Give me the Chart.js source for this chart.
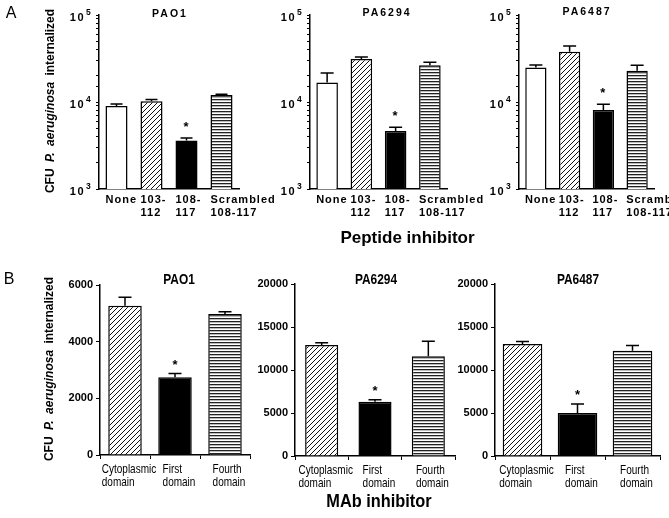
<!DOCTYPE html>
<html><head><meta charset="utf-8">
<script src="https://cdn.jsdelivr.net/npm/chart.js@4.4.1/dist/chart.umd.min.js"></script>
<style>
html,body{margin:0;padding:0;background:#fff;}
#wrap{position:relative;width:669px;height:518px;overflow:hidden;font-family:'Liberation Sans',Arial,sans-serif;color:#000;}
#wrap canvas{position:absolute;left:0;top:0;}
.t{position:absolute;white-space:nowrap;line-height:1;transform:translate(-50%,-50%);}
.ytitle{font-weight:bold;font-size:12px;word-spacing:3px;transform:translate(-50%,-50%) rotate(-90deg);}
.ptop{font-weight:bold;font-size:10.5px;letter-spacing:2px;}
.pbot{font-weight:bold;font-size:14.5px;transform:translate(-50%,-50%) scaleX(0.82);}
.xt{font-weight:bold;font-size:17px;}
.xtn{font-weight:bold;font-size:19px;transform:translate(-50%,-50%) scaleX(0.86);}
.lab{font-size:16px;}
</style></head><body><div id="wrap"></div>
<script>
// ---------------- DATA ----------------
const strains = ['PAO1', 'PA6294', 'PA6487'];
const peptideCategories = [['None'], ['103-', '112'], ['108-', '117'], ['Scrambled', '108-117']];
const peptideTickValues = [1000, 10000, 100000];
const pao1PeptideMeans = [9000, 10200, 3600, 12000];
const pao1PeptideSem = [500, 500, 250, 300];
const pa6294PeptideMeans = [16700, 31200, 4640, 26400];
const pa6294PeptideSem = [4800, 1600, 480, 2200];
const pa6487PeptideMeans = [25000, 37800, 8100, 22900];
const pa6487PeptideSem = [1600, 6200, 1300, 3500];
const peptideSignificant = [false, false, true, false];

const mabCategories = [['Cytoplasmic', 'domain'], ['First', 'domain'], ['Fourth', 'domain']];
const pao1MabMeans = [5270, 2740, 4980];
const pao1MabSem = [295, 140, 80];
const pa6294MabMeans = [12900, 6310, 11590];
const pa6294MabSem = [270, 240, 1740];
const pa6487MabMeans = [13010, 5010, 12230];
const pa6487MabSem = [300, 1050, 610];
const mabSignificant = [false, true, false];
const pao1MabTicks = {max: 6000, step: 2000};
const paMabTicks = {max: 20000, step: 5000};

const yAxisTitle = ['CFU ', 'P.', ' ', 'aeruginosa', ' internalized'];
const peptideAxisTitle = 'Peptide inhibitor';
const mabAxisTitle = 'MAb inhibitor';
const panelLetters = ['A', 'B'];

// ---------------- STYLE / LAYOUT ----------------
const W = 669, H = 518;
const FONT = "'Liberation Sans', Arial, sans-serif";
Chart.defaults.font.family = FONT;
Chart.defaults.color = '#000';

function diagPattern() {
  const s = 5, c = document.createElement('canvas'); c.width = s; c.height = s;
  const g = c.getContext('2d'); g.fillStyle = '#fff'; g.fillRect(0, 0, s, s);
  g.strokeStyle = '#111'; g.lineWidth = 1;
  g.beginPath();
  g.moveTo(0, s); g.lineTo(s, 0);
  g.moveTo(-1, 1); g.lineTo(1, -1);
  g.moveTo(s - 1, s + 1); g.lineTo(s + 1, s - 1);
  g.stroke();
  return g.createPattern(c, 'repeat');
}
function stripePattern() {
  const c = document.createElement('canvas'); c.width = 4; c.height = 3;
  const g = c.getContext('2d');
  g.fillStyle = '#fff'; g.fillRect(0, 0, 4, 3);
  g.fillStyle = '#bbb'; g.fillRect(0, 1, 4, 1);
  g.fillStyle = '#222'; g.fillRect(0, 0, 4, 1);
  return g.createPattern(c, 'repeat');
}
const DIAG = diagPattern(), STRIPE = stripePattern();
const peptideFills = ['#fff', DIAG, '#000', STRIPE];
const mabFills = [DIAG, '#000', STRIPE];

const wrap = document.getElementById('wrap');
function addText(cls, x, y, html) {
  const d = document.createElement('div');
  d.className = 't ' + cls; d.style.left = x + 'px'; d.style.top = y + 'px';
  d.innerHTML = html; wrap.appendChild(d); return d;
}

const errorBars = {
  id: 'errorBars',
  afterDatasetsDraw(chart, args, opts) {
    const ctx = chart.ctx, y = chart.scales.y;
    const meta = chart.getDatasetMeta(0);
    const data = chart.data.datasets[0].data;
    ctx.save();
    ctx.strokeStyle = '#000'; ctx.lineWidth = 1.5; ctx.fillStyle = '#000';
    meta.data.forEach((bar, i) => {
      const v = data[i], e = opts.errors[i];
      const yb = y.getPixelForValue(v), yt = y.getPixelForValue(v + e);
      ctx.beginPath();
      ctx.moveTo(bar.x, yb); ctx.lineTo(bar.x, yt);
      ctx.moveTo(bar.x - opts.cap, yt); ctx.lineTo(bar.x + opts.cap, yt);
      ctx.stroke();
      if (opts.stars[i]) {
        const fs = 13;
        ctx.font = 'bold ' + fs + 'px ' + FONT;
        ctx.textAlign = 'center'; ctx.textBaseline = 'alphabetic';
        ctx.fillText('*', bar.x, yt - opts.starGap + 0.58 * fs);
      }
    });
    ctx.restore();
  }
};

const spacing = {
  id: 'spacing',
  beforeDraw(chart, args, opts) { chart.ctx.letterSpacing = opts.value || '0px'; }
};

const powerLabels = {
  id: 'powerLabels',
  afterDraw(chart, args, opts) {
    if (!opts.values) return;
    const ctx = chart.ctx, y = chart.scales.y, left = chart.chartArea.left;
    ctx.save();
    ctx.letterSpacing = '1.5px';
    opts.values.forEach(v => {
      const py = y.getPixelForValue(v);
      const exp = Math.round(Math.log10(v));
      ctx.font = 'bold 11px ' + FONT;
      ctx.textAlign = 'right'; ctx.textBaseline = 'middle';
      ctx.fillText('10', left - 14, py + 2.5);
      ctx.font = 'bold 8.5px ' + FONT;
      ctx.textAlign = 'left';
      ctx.fillText(String(exp), left - 13, py - 2.5);
    });
    ctx.restore();
  }
};

// condensed category labels (left-aligned lines, block centred on the tick)
const narrowLabels = {
  id: 'narrowLabels',
  afterDraw(chart, args, opts) {
    if (!opts.scaleX) return;
    const ctx = chart.ctx, x = chart.scales.x;
    ctx.save();
    ctx.letterSpacing = '0px';
    ctx.font = opts.size + 'px ' + FONT;
    ctx.fillStyle = '#000'; ctx.textBaseline = 'middle'; ctx.textAlign = 'left';
    chart.data.labels.forEach((lines, i) => {
      const px = x.getPixelForTick(i);
      const bw = Math.max.apply(null, lines.map(l => ctx.measureText(l).width)) * opts.scaleX;
      const left = px - bw / 2 + opts.shift;
      lines.forEach((l, j) => {
        ctx.save();
        ctx.translate(left, x.top + opts.first + j * opts.lh);
        ctx.scale(opts.scaleX, 1);
        ctx.fillText(l, 0, 0);
        ctx.restore();
      });
    });
    ctx.restore();
  }
};

function fixFit(w, h) {
  return function (s) {
    if (w !== null) s.width = w;
    if (h !== null) s.height = h;
    s.paddingLeft = 0; s.paddingRight = 0; s.paddingTop = 0; s.paddingBottom = 0;
  };
}

function makeChart(geom, labels, means, sems, stars, fills, yScale, xScale, extra) {
  const c = document.createElement('canvas');
  c.width = W; c.height = H; wrap.appendChild(c);
  const YW = 40, XH = 40;
  return new Chart(c, {
    type: 'bar',
    data: {labels: labels, datasets: [{
      data: means, backgroundColor: fills, borderColor: '#000', borderWidth: 1.5,
      barPercentage: geom.bp, categoryPercentage: 1, borderSkipped: 'start'
    }]},
    options: {
      responsive: false, animation: false, devicePixelRatio: 1,
      layout: {padding: {left: geom.left - YW, right: W - geom.right, top: geom.top, bottom: H - geom.bottom - XH}},
      plugins: {
        legend: {display: false}, tooltip: {enabled: false}, title: {display: false},
        errorBars: {errors: sems, stars: stars, cap: geom.cap, starGap: geom.starGap},
        spacing: {value: extra.spacing},
        powerLabels: {values: extra.powers},
        narrowLabels: extra.narrow || {}
      },
      scales: {
        x: Object.assign({afterFit: fixFit(null, XH)}, xScale),
        y: Object.assign({afterFit: fixFit(YW, null)}, yScale)
      }
    },
    plugins: [errorBars, spacing, powerLabels, narrowLabels]
  });
}

// ---- Peptide (log) row ----
const peptideGeoms = [
  {left: 99, right: 239, top: 15, bottom: 189, bp: 0.63, cap: 6, starGap: 14.5},
  {left: 310, right: 447, top: 15, bottom: 189, bp: 0.63, cap: 6.5, starGap: 14.5},
  {left: 519, right: 654, top: 15, bottom: 189, bp: 0.63, cap: 6.5, starGap: 14.5}
];
const peptideMeans = [pao1PeptideMeans, pa6294PeptideMeans, pa6487PeptideMeans];
const peptideSems = [pao1PeptideSem, pa6294PeptideSem, pa6487PeptideSem];
peptideGeoms.forEach((g, k) => {
  makeChart(g, peptideCategories, peptideMeans[k], peptideSems[k], peptideSignificant, peptideFills,
    {
      type: 'logarithmic', min: peptideTickValues[0], max: peptideTickValues[peptideTickValues.length - 1],
      ticks: {autoSkip: false, callback: () => '', padding: 0},
      grid: {drawOnChartArea: false, drawTicks: true, tickLength: 3, tickColor: '#000', tickWidth: 1},
      border: {display: true, color: '#000', width: 1.5}
    },
    {
      grid: {display: false, drawTicks: false},
      border: {display: true, color: '#000', width: 1.5},
      ticks: {autoSkip: false, maxRotation: 0, minRotation: 0, align: 'start', labelOffset: -11, padding: 4,
              font: {size: 11, weight: 'bold', family: FONT, lineHeight: 1.2}, color: '#000'}
    },
    {spacing: '1px', powers: peptideTickValues});
  addText('ptop', [170, 387, 587][k], [13, 12, 11][k], strains[k]);
});

// ---- MAb (linear) row ----
const mabGeoms = [
  {left: 100, right: 250, top: 285, bottom: 455, bp: 0.67, cap: 6.5, starGap: 11.5, t: pao1MabTicks},
  {left: 295, right: 455, top: 284, bottom: 456, bp: 0.62, cap: 6.5, starGap: 12, t: paMabTicks},
  {left: 495, right: 660, top: 284, bottom: 456, bp: 0.72, cap: 6.5, starGap: 12, t: paMabTicks}
];
const mabMeans = [pao1MabMeans, pa6294MabMeans, pa6487MabMeans];
const mabSems = [pao1MabSem, pa6294MabSem, pa6487MabSem];
mabGeoms.forEach((g, k) => {
  makeChart(g, mabCategories, mabMeans[k], mabSems[k], mabSignificant, mabFills,
    {
      type: 'linear', min: 0, max: g.t.max,
      ticks: {stepSize: g.t.step, padding: 3, font: {size: 11, weight: 'bold', family: FONT}, color: '#000',
              callback: v => String(v)},
      grid: {drawOnChartArea: false, drawTicks: true, tickLength: 4, tickColor: '#000', tickWidth: 1},
      border: {display: true, color: '#000', width: 1.5}
    },
    {
      grid: {display: true, drawOnChartArea: false, drawTicks: true, tickLength: 4, tickColor: '#000', tickWidth: 1, offset: true},
      border: {display: true, color: '#000', width: 1.5},
      ticks: {display: false, autoSkip: false, maxRotation: 0, minRotation: 0}
    },
    {spacing: '0px', powers: null, narrow: {scaleX: 0.77, size: 13, shift: 4, first: 14.7, lh: 12.8}});
  addText('pbot', [179, 376, 578][k], 279, strains[k]);
});

// ---- shared text ----
const yTitleHtml = yAxisTitle.map((s, i) => (i === 1 || i === 3) ? '<i>' + s + '</i>' : s).join('');
addText('ytitle', 49.5, 100.5, yTitleHtml);
addText('ytitle', 49, 369, yTitleHtml);
addText('xt', 407.5, 237, peptideAxisTitle);
addText('xtn', 379, 500, mabAxisTitle);
addText('lab', 11, 13, panelLetters[0]);
addText('lab', 9, 279, panelLetters[1]);
</script></body></html>
